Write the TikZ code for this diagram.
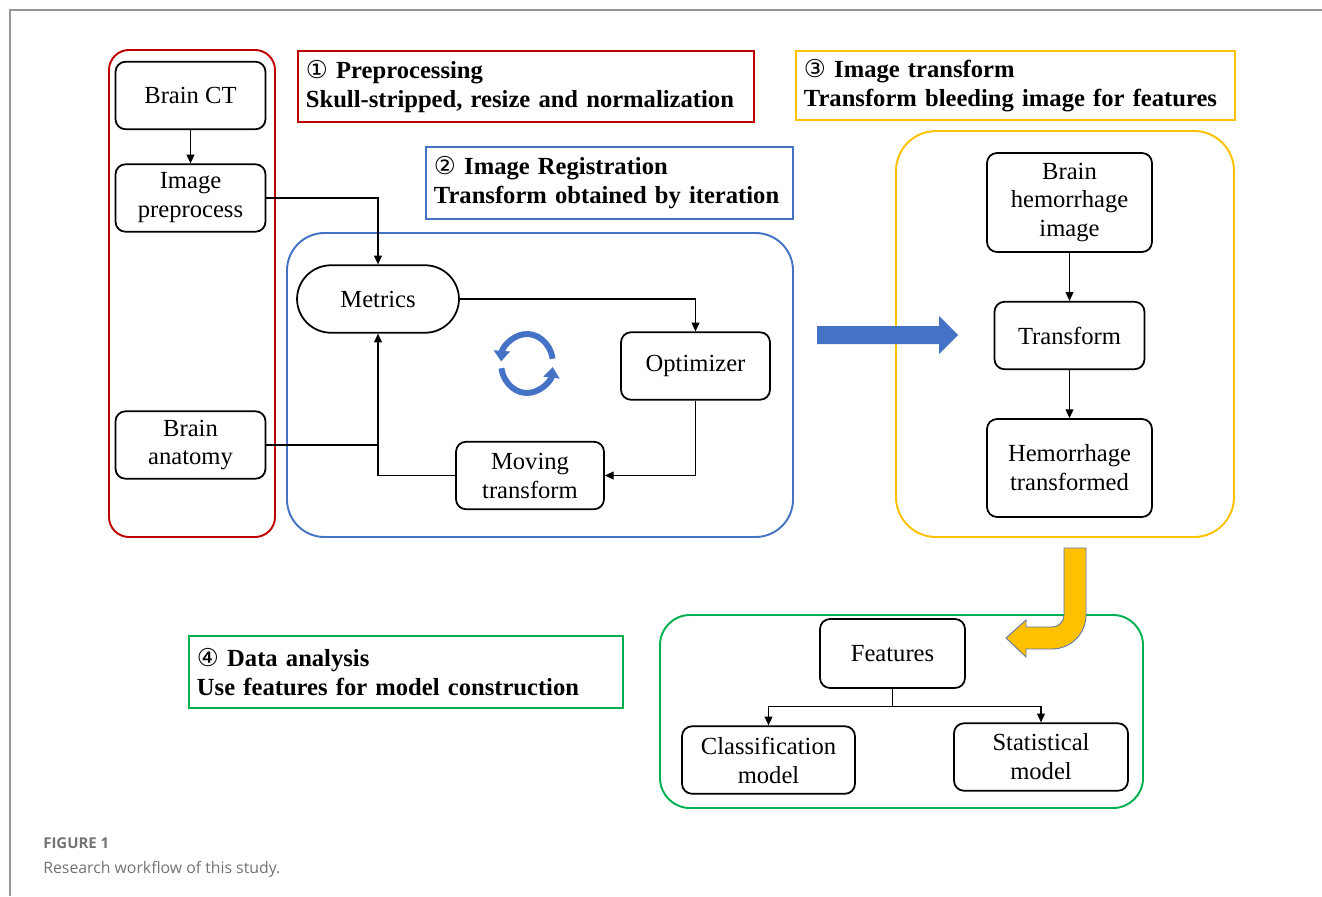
\documentclass[tikz,border=0pt]{standalone}
\usepackage{fontspec}
\setmainfont{Liberation Serif}
\newfontfamily\symfont{DejaVu Sans}
\newfontfamily\capfont{Open Sans}
\usetikzlibrary{arrows.meta}

\definecolor{prered}{RGB}{192,0,0}
\definecolor{regblue}{RGB}{68,114,196}
\definecolor{tfyellow}{RGB}{255,192,0}
\definecolor{anagreen}{RGB}{0,176,80}
\definecolor{capgray}{RGB}{115,115,115}
\definecolor{framegray}{RGB}{150,150,150}

\tikzset{
	box/.style={draw, line width=1pt, rounded corners=0.2cm, align=center, minimum width=3cm, minimum height=1.35cm, inner sep=2pt},
	conn/.style={line width=0.7pt, -{Triangle[length=5pt,width=4.5pt]}},
	link/.style={line width=0.7pt},
	hdr/.style={draw, line width=1.1pt, align=left, anchor=north west, inner xsep=0.16cm, inner ysep=0pt, font=\fontsize{14}{16.5}\selectfont\bfseries},
	panel/.style={line width=1.1pt, rounded corners=#1},
	cyc/.style={regblue, line width=3.4pt, -{Triangle[length=6pt,width=9pt]}},
}

\newcommand{\circnum}[1]{{\symfont\mdseries #1}}

\begin{document}
\begin{tikzpicture}[x=0.02cm, y=-0.02cm, font=\fontsize{14}{16.5}\selectfont]
	\useasboundingbox (0,0) rectangle (1322,896);
	
	% page frame
	\draw[framegray, line width=1.1pt] (10,896) -- (10,10) -- (1322,10);
	
	% group frames
	\draw[panel=0.4cm, prered] (109,50) rectangle (275,537);
	\draw[panel=0.75cm, regblue] (287,233) rectangle (793,537);
	\draw[panel=0.8cm, tfyellow] (896,131) rectangle (1234,537);
	\draw[panel=0.6cm, anagreen] (660,615) rectangle (1143,808);
	
	% headers
	\node[hdr, draw=prered, text width=8.8cm, minimum height=1.42cm] (hpre) at (297,50)
		{\circnum{①} Preprocessing\\Skull-stripped, resize and normalization};
	\node[hdr, draw=regblue, text width=7.02cm, minimum height=1.44cm] (hreg) at (425,146)
		{\circnum{②} Image Registration\\Transform obtained by iteration};
	\node[hdr, draw=tfyellow, text width=8.46cm, minimum height=1.38cm] (htf) at (795,50)
		{\circnum{③} Image transform\\Transform bleeding image for features};
	\node[hdr, draw=anagreen, text width=8.36cm, minimum height=1.44cm] (hana) at (188,635)
		{\circnum{④} Data analysis\\Use features for model construction};
	
	% preprocessing
	\node[box] (ct) at (190.5,95.5) {Brain CT};
	\node[box] (pre) at (190.5,198) {Image\\preprocess};
	\node[box] (anat) at (190.5,445) {Brain\\anatomy};
	
	% registration loop
	\node[box, minimum width=3.24cm, rounded corners=0.68cm] (met) at (378,299) {Metrics};
	\node[box, minimum width=2.98cm] (opt) at (695.5,366) {Optimizer};
	\node[box, minimum width=2.96cm] (mov) at (530,475.5) {Moving\\transform};
	
	% image transform
	\node[box, minimum width=3.3cm, minimum height=1.98cm] (bhi) at (1069.5,202.5) {Brain\\hemorrhage\\image};
	\node[box] (tr) at (1069.5,335.5) {Transform};
	\node[box, minimum width=3.3cm, minimum height=1.96cm] (ht) at (1069.5,468) {Hemorrhage\\transformed};
	
	% data analysis
	\node[box, minimum width=2.9cm, minimum height=1.38cm] (feat) at (892.5,653.5) {Features};
	\node[box, minimum width=3.46cm] (cls) at (768.5,760) {Classification\\model};
	\node[box, minimum width=3.48cm] (stat) at (1041,757) {Statistical\\model};
	
	% connectors
	\draw[conn] (ct) -- (pre);
	\draw[conn] (pre.east) -| (met.north);
	\draw[conn] (met.east) -| (opt.north);
	\draw[conn] (opt.south) |- (mov.east);
	\draw[conn] (mov.west) -| (met.south);
	\draw[link] (anat.east) -- (anat.east -| met.south);
	\draw[conn] (bhi) -- (tr);
	\draw[conn] (tr) -- (ht);
	\path (feat.south) ++(0,18) coordinate (split);
	\draw[conn] (feat.south) -- (split) -| (cls.north);
	\draw[conn] (split) -| (stat.north);
	
	% iteration symbol
	\draw[cyc] (552.6,358.8) arc[start angle=-10, end angle=-175, x radius=26, y radius=30];
	\draw[cyc] (501.4,368.2) arc[start angle=170, end angle=8, x radius=26, y radius=30];
	
	% block arrows
	\fill[regblue] (817,326) -- (939,326) -- (939,316) -- (958,335) -- (939,354) -- (939,344) -- (817,344) -- cycle;
	\filldraw[fill=tfyellow, draw=regblue!60!gray, line width=0.5pt] (1064,548) -- (1086,548) -- (1086,615)
		arc[start angle=0, end angle=90, radius=34] -- (1026,649) -- (1026,657) -- (1006,638) -- (1026,620) -- (1026,627) -- (1052,627)
		arc[start angle=90, end angle=0, radius=12] -- cycle;
	
	% caption
	\node[anchor=base west, inner sep=0, text=capgray, font=\capfont\bfseries\fontsize{8.5}{10}\selectfont] (figlabel) at (43,848) {FIGURE 1};
	\node[anchor=base west, inner sep=0, text=capgray, font=\capfont\fontsize{9}{11}\selectfont] (figcap) at (43,873) {Research workflow of this study.};
\end{tikzpicture}
\end{document}
